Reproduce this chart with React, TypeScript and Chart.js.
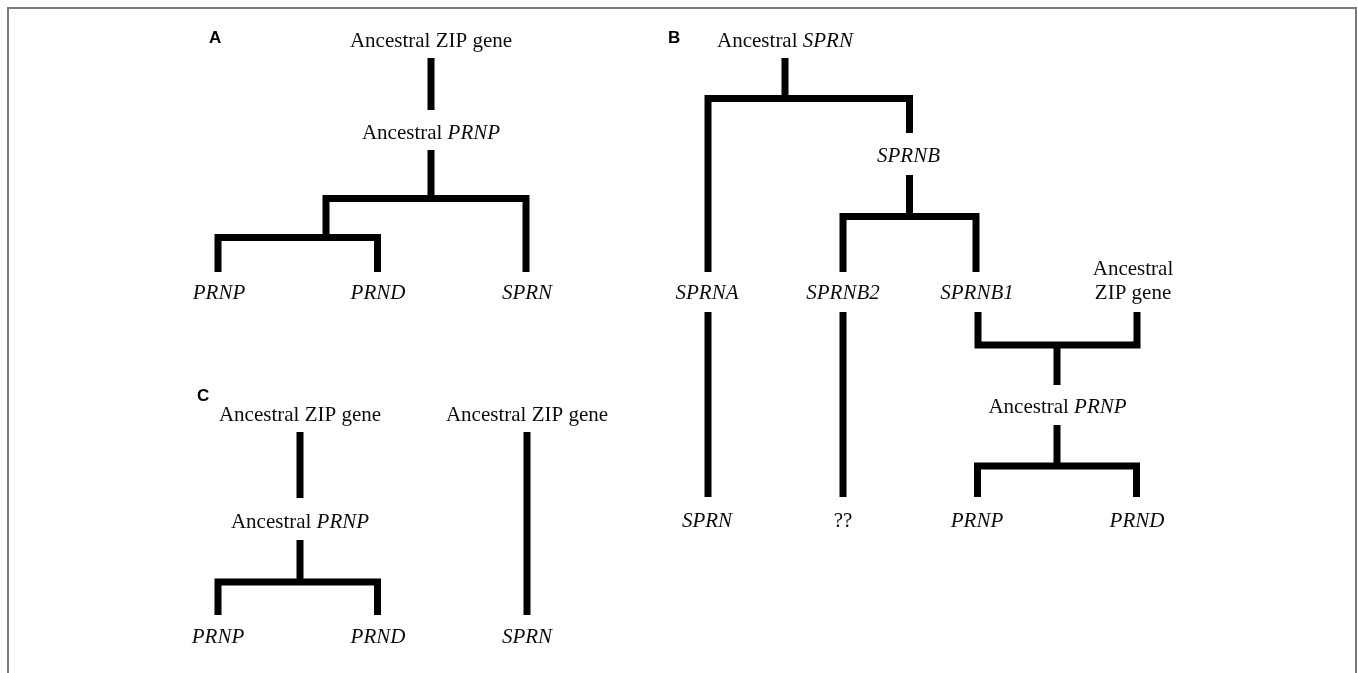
import React, { useEffect, useRef } from "react";
import { Chart, registerables } from "chart.js";

Chart.register(...registerables);

// Vertical stems of the trees (x, top y, bottom y) in diagram units
const stemX = [431, 431, 785, 909.5, 708, 843, 1057, 1057, 300, 300, 527];
const stemTop = [58, 150, 58, 175, 312, 312, 345, 425, 432, 540, 432];
const stemBottom = [110, 198.5, 98.5, 216.5, 497, 497, 385, 466, 498, 582, 615];

// Brackets: left arm x/end, right arm x/end, crossbar y
const bracketLeftX = [326, 218, 708, 843, 978, 977.5, 218];
const bracketLeftEnd = [237.5, 272, 272, 272, 312, 497, 615];
const bracketRightX = [526, 377.5, 909.5, 976, 1137, 1136.5, 377.5];
const bracketRightEnd = [272, 272, 133, 272, 312, 497, 615];
const bracketY = [198.5, 237.5, 98.5, 216.5, 345, 466, 582];

// Node labels (segments between * are italic), centre x and baseline y
const labelTexts = [
  "Ancestral ZIP gene", "Ancestral *PRNP*", "*PRNP*", "*PRND*", "*SPRN*",
  "Ancestral *SPRN*", "*SPRNB*", "*SPRNA*", "*SPRNB2*", "*SPRNB1*",
  "Ancestral", "ZIP gene", "Ancestral *PRNP*", "*SPRN*", "??", "*PRNP*", "*PRND*",
  "Ancestral ZIP gene", "Ancestral *PRNP*", "*PRNP*", "*PRND*", "Ancestral ZIP gene", "*SPRN*",
];
const labelX = [431, 431, 219, 378, 527, 785, 908.5, 707, 843, 977, 1133, 1133, 1057.5, 707, 843, 977, 1137, 300, 300, 218, 378, 527, 527];
const labelY = [47, 139, 299, 299, 299, 47, 162, 299, 299, 299, 275, 299, 413, 527, 527, 527, 527, 421, 528, 643, 643, 421, 643];

// Panel letters
const panelLetters = ["A", "B", "C"];
const panelX = [209, 668, 197];
const panelY = [43, 43, 401];

const SERIF = '"Liberation Serif", "Times New Roman", serif';

export default function App() {
  const ref = useRef<HTMLCanvasElement | null>(null);

  useEffect(() => {
    document.body.style.margin = "0";
    document.body.style.overflow = "hidden";
    const canvas = ref.current;
    if (!canvas) return;

    const datasets: any[] = [];
    const lineStyle = {
      showLine: true,
      borderColor: "#000",
      backgroundColor: "#000",
      borderWidth: 7,
      pointRadius: 0,
      borderCapStyle: "butt",
      borderJoinStyle: "miter",
      fill: false,
      tension: 0,
    };
    stemX.forEach((x, i) => {
      datasets.push({
        ...lineStyle,
        data: [
          { x, y: stemTop[i] },
          { x, y: stemBottom[i] },
        ],
      });
    });
    bracketY.forEach((y, i) => {
      datasets.push({
        ...lineStyle,
        data: [
          { x: bracketLeftX[i], y: bracketLeftEnd[i] },
          { x: bracketLeftX[i], y },
          { x: bracketRightX[i], y },
          { x: bracketRightX[i], y: bracketRightEnd[i] },
        ],
      });
    });

    const textPlugin = {
      id: "diagramText",
      beforeDraw(chart: any) {
        const ctx = chart.ctx;
        const xs = chart.scales.x;
        const ys = chart.scales.y;
        ctx.save();
        ctx.strokeStyle = "#7a7a7a";
        ctx.lineWidth = 2;
        const x0 = xs.getPixelForValue(8);
        const y0 = ys.getPixelForValue(8);
        const x1 = xs.getPixelForValue(1356);
        const y1 = ys.getPixelForValue(700);
        ctx.strokeRect(x0, y0, x1 - x0, y1 - y0);
        ctx.restore();
      },
      afterDatasetsDraw(chart: any) {
        const ctx = chart.ctx;
        const xs = chart.scales.x;
        const ys = chart.scales.y;
        ctx.save();
        ctx.fillStyle = "#0d0d0d";
        ctx.textBaseline = "alphabetic";
        ctx.textAlign = "left";
        labelTexts.forEach((t, i) => {
          const parts = t.split("*");
          const fonts = parts.map((_, k) => (k % 2 === 1 ? `italic 21px ${SERIF}` : `21px ${SERIF}`));
          let total = 0;
          const widths = parts.map((p, k) => {
            ctx.font = fonts[k];
            const w = ctx.measureText(p).width;
            total += w;
            return w;
          });
          let cx = xs.getPixelForValue(labelX[i]) - total / 2;
          const by = ys.getPixelForValue(labelY[i]);
          parts.forEach((p, k) => {
            if (!p) return;
            ctx.font = fonts[k];
            ctx.fillText(p, cx, by);
            cx += widths[k];
          });
        });
        ctx.fillStyle = "#000";
        ctx.font = 'bold 17px "Liberation Sans", Arial, sans-serif';
        panelLetters.forEach((l, i) => {
          ctx.fillText(l, xs.getPixelForValue(panelX[i]), ys.getPixelForValue(panelY[i]));
        });
        ctx.restore();
      },
    };

    const chart = new Chart(canvas, {
      type: "scatter",
      data: { datasets },
      options: {
        animation: false,
        responsive: true,
        maintainAspectRatio: false,
        layout: { padding: 0 },
        plugins: {
          legend: { display: false },
          tooltip: { enabled: false },
        },
        events: [],
        scales: {
          x: { type: "linear", min: 0, max: 1358, display: false },
          y: { type: "linear", min: 0, max: 673, reverse: true, display: false },
        },
      },
      plugins: [textPlugin],
    } as any);

    return () => chart.destroy();
  }, []);

  return (
    <div style={{ width: 1358, height: 673, position: "relative" }}>
      <canvas ref={ref} />
    </div>
  );
}
